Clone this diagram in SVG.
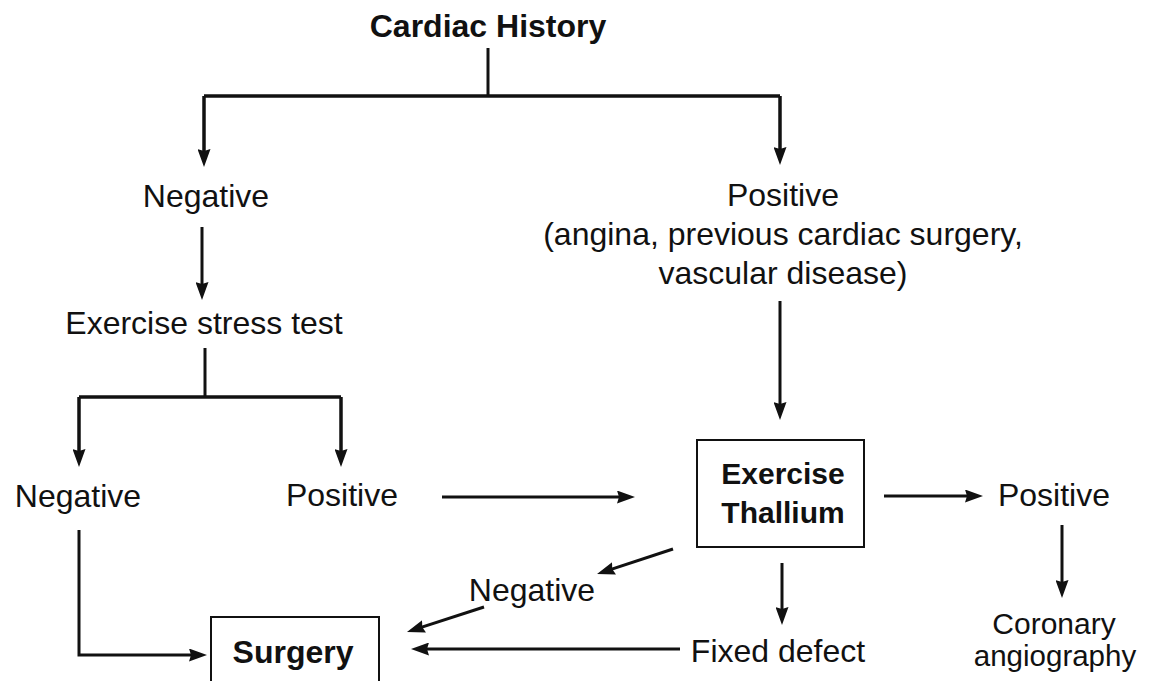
<svg xmlns="http://www.w3.org/2000/svg" width="1152" height="681" viewBox="0 0 1152 681">
  <style>
    text { font-family: "Liberation Sans", Arial, sans-serif; font-size: 32px; fill: #111; text-anchor: middle; }
    .b { font-weight: bold; }
    .sm { font-size: 30px; }
    .box { fill: none; stroke: #111; stroke-width: 2; }
    .ln { fill: none; stroke: #111; stroke-width: 3; }
    .br { fill: none; stroke: #111; stroke-width: 3.5; }
    .ar { marker-end: url(#head); }
  </style>
  <defs>
    <marker id="head" viewBox="0 0 18 13" markerWidth="18" markerHeight="13" refX="8" refY="6.5" orient="auto" markerUnits="userSpaceOnUse">
      <path d="M0,0 L18,6.5 L0,13 L2,6.5 z" fill="#111"/>
    </marker>
  </defs>
  <rect width="1152" height="681" fill="#fff"/>

  <!-- connectors -->
  <g id="connectors">
    <path class="ln" d="M488,48 V96"/>
    <path class="br" d="M204,96 H780"/>
    <path class="br ar" d="M204,96 V157"/>
    <path class="br ar" d="M780,96 V155"/>
    <path class="ln ar" d="M202,227 V290"/>
    <path class="ln" d="M205,348 V397"/>
    <path class="br" d="M79,397 H341"/>
    <path class="br ar" d="M79,397 V457"/>
    <path class="br ar" d="M341,397 V457"/>
    <path class="ln ar" d="M79,530 V655 H197"/>
    <path class="ln ar" d="M442,497 H625"/>
    <path class="ln ar" d="M780,301 V410"/>
    <path class="ln ar" d="M884,496 H973"/>
    <path class="ln ar" d="M1062,525 V588"/>
    <path class="ln ar" d="M782,563 V615"/>
    <path class="ln ar" d="M673,549 L606.5,570.9"/>
    <path class="ln ar" d="M484,607 L416.5,628.9"/>
    <path class="ln ar" d="M680,649 H421"/>
  </g>

  <g id="cardiac-history">
    <text class="b" x="488" y="37">Cardiac History</text>
  </g>
  <g id="history-negative">
    <text x="206" y="207">Negative</text>
  </g>
  <g id="history-positive">
    <text x="783" y="206">Positive</text>
    <text x="783" y="245">(angina, previous cardiac surgery,</text>
    <text x="783" y="284">vascular disease)</text>
  </g>
  <g id="stress-test">
    <text x="204" y="334">Exercise stress test</text>
  </g>
  <g id="stress-negative">
    <text x="78" y="507">Negative</text>
  </g>
  <g id="stress-positive">
    <text x="342" y="506">Positive</text>
  </g>
  <g id="exercise-thallium">
    <rect class="box" x="697" y="440" width="167" height="107"/>
    <text class="b sm" x="783" y="484">Exercise</text>
    <text class="b sm" x="783" y="523">Thallium</text>
  </g>
  <g id="thallium-positive">
    <text x="1054" y="506">Positive</text>
  </g>
  <g id="thallium-negative">
    <text x="532" y="601">Negative</text>
  </g>
  <g id="fixed-defect">
    <text x="778" y="662">Fixed defect</text>
  </g>
  <g id="coronary-angiography">
    <text class="sm" x="1054" y="634">Coronary</text>
    <text x="1055" y="666" style="font-size:29.5px">angiography</text>
  </g>
  <g id="surgery">
    <rect class="box" x="211" y="617" width="168" height="80"/>
    <text class="b" x="293" y="663">Surgery</text>
  </g>
</svg>
